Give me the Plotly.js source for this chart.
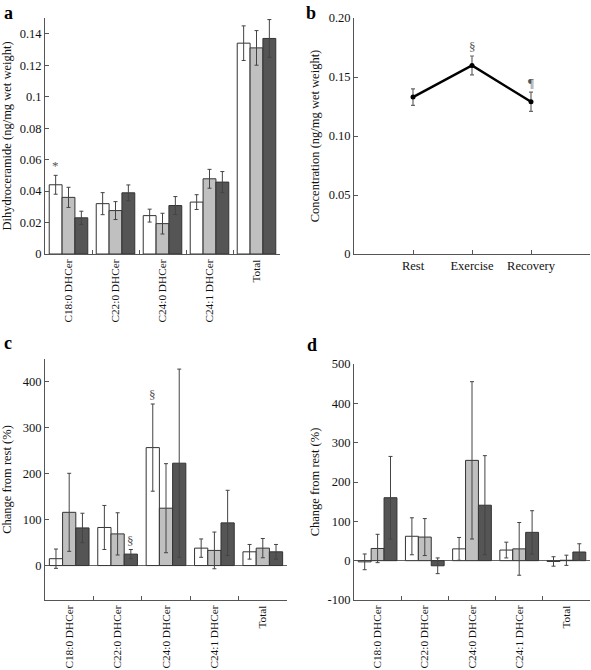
<!DOCTYPE html>
<html><head><meta charset="utf-8">
<script src="https://cdn.plot.ly/plotly-3.0.1.min.js"></script>
<style>html,body{margin:0;padding:0;background:#fff}</style>
</head><body><div id="chart" style="width:591px;height:670px"></div>
<script>
// ---- data ----
const categories = ['C18:0 DHCer', 'C22:0 DHCer', 'C24:0 DHCer', 'C24:1 DHCer', 'Total'];
const groupNames = ['Group 1', 'Group 2', 'Group 3'];

// panel a: dihydroceramide concentration (ng/mg wet weight)
const aMean1 = [0.044, 0.032, 0.0244, 0.033, 0.134];
const aMean2 = [0.036, 0.0276, 0.0193, 0.0478, 0.131];
const aMean3 = [0.023, 0.0389, 0.0308, 0.0457, 0.137];
const aErr1 = [0.006, 0.007, 0.0041, 0.0047, 0.011];
const aErr2 = [0.0064, 0.0057, 0.0066, 0.006, 0.011];
const aErr3 = [0.0042, 0.005, 0.0057, 0.0067, 0.012];

// panel b: total concentration over time
const timepoints = ['Rest', 'Exercise', 'Recovery'];
const bMean = [0.133, 0.1598, 0.129];
const bErr = [0.007, 0.008, 0.0082];
const bTickVals = [0, 0.05, 0.10, 0.15, 0.20];
const bTickText = ['0', '0.05', '0.10', '0.15', '0.20'];

// panel c: change from rest (%)
const cMean1 = [15, 83, 257, 38, 30];
const cMean2 = [116, 69, 125, 33, 38];
const cMean3 = [82, 25, 223, 93, 30];
const cErr1 = [21, 48, 95, 20, 16];
const cErr2 = [85, 46, 97, 40, 21];
const cErr3 = [32, 10, 205, 71, 16];

// panel d: change from rest (%)
const dMean1 = [-3, 62, 30, 27, -2];
const dMean2 = [31, 60, 255, 30, 1];
const dMean3 = [160, -13, 141, 72, 22];
const dErr1 = [20, 47, 29, 20, 12];
const dErr2 = [36, 47, 200, 67, 13];
const dErr3 = [105, 20, 126, 55, 21];
const dTickVals = [-100, 0, 100, 200, 300, 400, 500];
const dTickText = ['-100', '0', '100', '200', '300', '400', '500'];

// significance symbols: [panel, category index, group index, symbol]
const barSymbols = [
  ['a', 0, 0, '*'],
  ['c', 1, 2, '§'],
  ['c', 2, 0, '§']
];
const lineSymbols = [
  ['Exercise', '§'],
  ['Recovery', '¶']
];

// ---- styling ----
const FONT = 'Liberation Serif, Times New Roman, serif';
const fillColors = ['#ffffff', '#c0c0c0', '#555555'];
const barGap = 0.18;

const panels = {
  a: {means: [aMean1, aMean2, aMean3], errs: [aErr1, aErr2, aErr3], xa: 'x', ya: 'y'},
  c: {means: [cMean1, cMean2, cMean3], errs: [cErr1, cErr2, cErr3], xa: 'x3', ya: 'y3'},
  d: {means: [dMean1, dMean2, dMean3], errs: [dErr1, dErr2, dErr3], xa: 'x4', ya: 'y4'}
};

const traces = [];
for (const key of ['a', 'c', 'd']) {
  const p = panels[key];
  for (let g = 0; g < 3; g++) {
    traces.push({
      type: 'bar', x: categories, y: p.means[g], name: groupNames[g],
      xaxis: p.xa, yaxis: p.ya, showlegend: false,
      marker: {color: fillColors[g], line: {color: '#333333', width: 1}},
      error_y: {type: 'data', array: p.errs[g], visible: true, color: '#444444', thickness: 1, width: 2}
    });
  }
}
traces.push({
  type: 'scatter', mode: 'lines+markers', x: timepoints, y: bMean,
  xaxis: 'x2', yaxis: 'y2', showlegend: false,
  line: {color: '#000000', width: 2.5}, marker: {color: '#000000', size: 5},
  error_y: {type: 'data', array: bErr, visible: true, color: '#666666', thickness: 1.2, width: 2}
});

const W = 591, H = 670;
const fx = px => px / W, fy = py => 1 - py / H;

const axisBase = {
  showline: true, linecolor: '#555555', linewidth: 1, showgrid: false,
  ticks: 'inside', ticklen: 4, tickcolor: '#555555',
  tickfont: {family: FONT, size: 12.5, color: '#111'}, zeroline: false, fixedrange: true
};
const catAxis = (dom, anchor) => Object.assign({}, axisBase, {
  domain: dom, anchor: anchor, type: 'category', tickson: 'boundaries', tickangle: -90,
  tickfont: {family: FONT, size: 11.3, color: '#111'}
});
const titleFont = {family: FONT, size: 12.5, color: '#111'};

const annotations = [];
const letterPos = {a: [2, 1], b: [304, 1], c: [2, 331], d: [305, 333]};
for (const k in letterPos) {
  annotations.push({
    text: '<b>' + k + '</b>', xref: 'paper', yref: 'paper',
    x: fx(letterPos[k][0]), y: fy(letterPos[k][1]), xanchor: 'left', yanchor: 'top',
    showarrow: false, font: {family: FONT, size: 18, color: '#000'}
  });
}
const barWidth = (1 - barGap) / 3;
for (const s of barSymbols) {
  const p = panels[s[0]];
  const top = p.means[s[2]][s[1]] + p.errs[s[2]][s[1]];
  annotations.push({
    text: s[3], xref: p.xa, yref: p.ya, x: s[1] + (s[2] - 1) * barWidth, y: top,
    yanchor: 'bottom', yshift: 0, showarrow: false, font: {family: FONT, size: 13, color: '#555'}
  });
}
for (const s of lineSymbols) {
  const i = timepoints.indexOf(s[0]);
  annotations.push({
    text: s[1], xref: 'x2', yref: 'y2', x: s[0], y: bMean[i] + bErr[i],
    yanchor: 'bottom', yshift: 0, showarrow: false, font: {family: FONT, size: 13, color: '#555'}
  });
}

const layout = {
  width: W, height: H, margin: {l: 0, r: 0, t: 0, b: 0},
  paper_bgcolor: '#fff', plot_bgcolor: 'rgba(0,0,0,0)',
  barmode: 'group', bargap: barGap, bargroupgap: 0, showlegend: false,
  font: {family: FONT, color: '#111'},
  xaxis: catAxis([fx(45), fx(280)], 'y'),
  yaxis: Object.assign({}, axisBase, {
    domain: [fy(254), fy(18)], anchor: 'x', range: [0, 0.15], dtick: 0.02, tick0: 0,
    title: {text: 'Dihydroceramide (ng/mg wet weight)', font: titleFont}
  }),
  xaxis2: Object.assign({}, axisBase, {
    domain: [fx(354), fx(590)], anchor: 'y2', type: 'category', range: [-1, 3]
  }),
  yaxis2: Object.assign({}, axisBase, {
    domain: [fy(254), fy(18)], anchor: 'x2', range: [0, 0.2],
    tickvals: bTickVals, ticktext: bTickText,
    title: {text: 'Concentration (ng/mg wet weight)', font: titleFont}
  }),
  xaxis3: catAxis([fx(45), fx(287)], 'y3'),
  yaxis3: Object.assign({}, axisBase, {
    domain: [fy(600), fy(359)], anchor: 'x3', range: [-75, 450], dtick: 100, tick0: 0,
    zeroline: true, zerolinecolor: '#666666', zerolinewidth: 1,
    title: {text: 'Change from rest (%)', font: titleFont}
  }),
  xaxis4: catAxis([fx(354), fx(590)], 'y4'),
  yaxis4: Object.assign({}, axisBase, {
    domain: [fy(600), fy(364)], anchor: 'x4', range: [-100, 500],
    tickvals: dTickVals, ticktext: dTickText,
    zeroline: true, zerolinecolor: '#666666', zerolinewidth: 1,
    title: {text: 'Change from rest (%)', font: titleFont}
  }),
  annotations: annotations
};

Plotly.newPlot('chart', traces, layout, {staticPlot: true, displayModeBar: false});
</script></body></html>
